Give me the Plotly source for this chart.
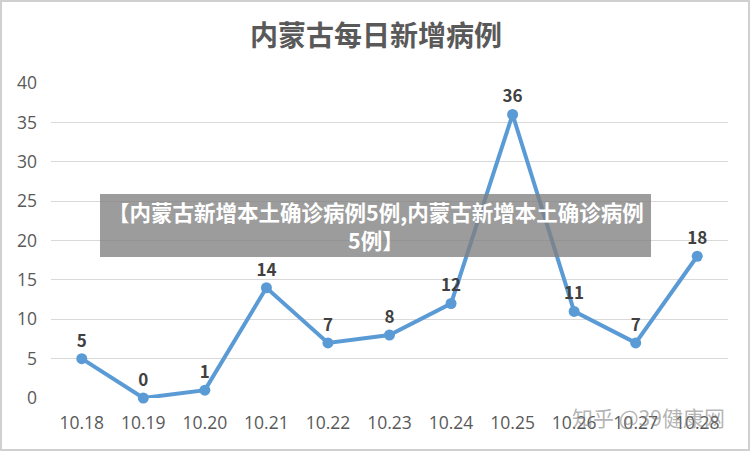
import plotly.graph_objects as go

dates = ["10.18", "10.19", "10.20", "10.21", "10.22", "10.23", "10.24", "10.25", "10.26", "10.27", "10.28"]
cases = [5, 0, 1, 14, 7, 8, 12, 36, 11, 7, 18]
y_ticks = [0, 5, 10, 15, 20, 25, 30, 35, 40]

W, H = 752, 452
L, R, T, B = 51, 24, 83, 54
pw, ph = W - L - R, H - T - B

def px(x):
    return (x - L) / pw

def py(y):
    return (H - B - y) / ph

fig = go.Figure()
fig.add_trace(go.Scatter(
    x=dates, y=cases, mode="lines+markers+text",
    line=dict(color="#5B9BD5", width=4),
    marker=dict(color="#5B9BD5", size=11),
    text=[str(v) for v in cases], textposition="top center",
    textfont=dict(family="Noto Sans CJK SC, Open Sans, sans-serif", size=17, color="#404040", weight="bold"),
    cliponaxis=False, hoverinfo="skip",
))

fig.update_layout(
    width=W, height=H, margin=dict(l=L, r=R, t=T, b=B),
    paper_bgcolor="white", plot_bgcolor="white", showlegend=False,
    font=dict(family="Open Sans, Noto Sans CJK SC, sans-serif", color="#595959"),
    title=dict(text="<b>内蒙古每日新增病例</b>", x=0.5, xref="container", xanchor="center",
               y=1 - 36 / H, yanchor="middle",
               font=dict(family="Noto Sans CJK SC, sans-serif", size=28, color="#595959")),
    xaxis=dict(type="category", range=[-0.5, len(dates) - 0.5], showgrid=False, showline=False,
               zeroline=False, ticks="", tickfont=dict(size=17.5, color="#595959"),
               ticklabelstandoff=12, automargin=False, fixedrange=True),
    yaxis=dict(range=[0, 40], tickvals=y_ticks, showgrid=True, gridcolor="#D9D9D9", gridwidth=1,
               zeroline=False, showline=False, ticks="", tickfont=dict(size=17.5, color="#595959"),
               ticklabelstandoff=13, automargin=False, fixedrange=True),
)

# outer border
fig.add_shape(type="rect", xref="paper", yref="paper",
              x0=px(1), x1=px(W - 3), y0=py(H - 2), y1=py(1),
              line=dict(color="#D0D0D0", width=2), fillcolor="rgba(0,0,0,0)", layer="above")

# banner overlay
fig.add_shape(type="rect", xref="paper", yref="paper",
              x0=px(100), x1=px(651), y0=py(257), y1=py(194),
              line=dict(width=0), fillcolor="rgba(128,128,128,0.78)", layer="above")
fig.add_annotation(xref="paper", yref="paper", x=px(375.5), y=py(225.5),
                   text="<b>【内蒙古新增本土确诊病例5例,内蒙古新增本土确诊病例<br>5例】</b>",
                   showarrow=False, align="center",
                   font=dict(family="Noto Sans CJK SC, sans-serif", size=21.5, color="white"))

# watermark
fig.add_annotation(xref="paper", yref="paper", x=px(570), y=py(434), xanchor="left",
                   text="知乎 @39健康网", showarrow=False,
                   font=dict(family="Noto Sans CJK SC, sans-serif", size=21, color="rgba(130,130,130,0.6)"))

fig.write_html("out.html", config={"displayModeBar": False},
               post_script="document.body.style.margin='0';")
